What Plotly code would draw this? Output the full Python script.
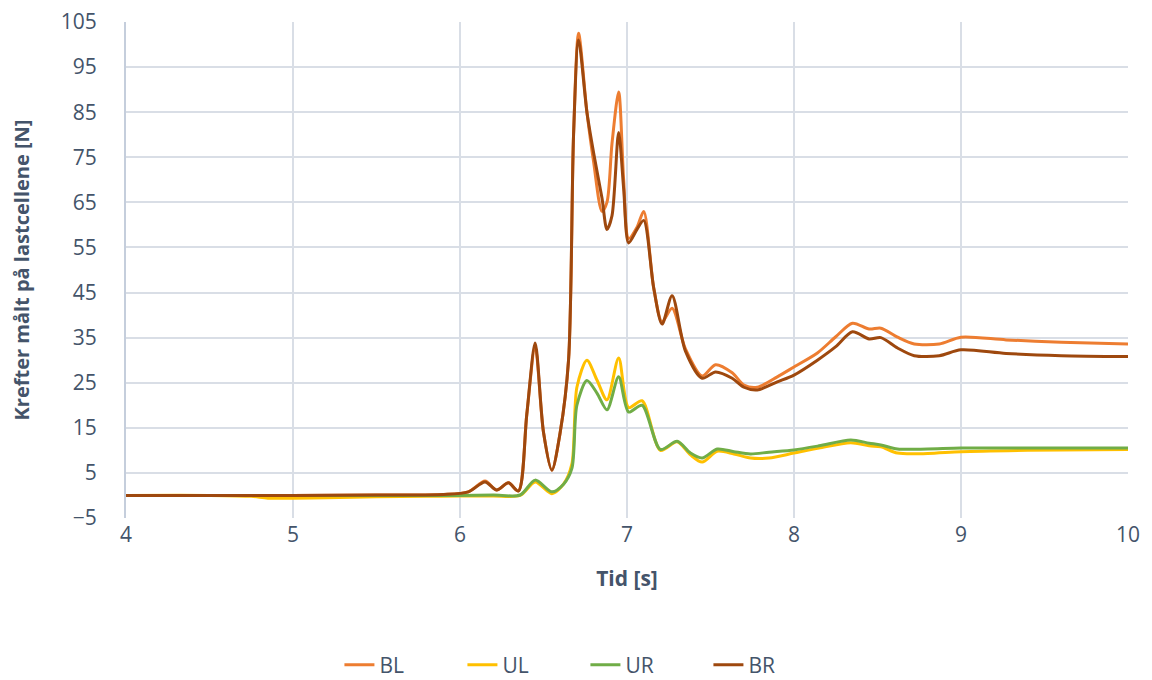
import plotly.graph_objects as go

# time grids (s)
t_B = [4.0, 4.5, 5.0, 5.5, 5.9, 6.05, 6.15, 6.22, 6.29, 6.35, 6.40, 6.45, 6.50, 6.55,
       6.60, 6.65, 6.68, 6.71, 6.76, 6.80, 6.85, 6.88, 6.91, 6.95, 6.98, 7.01, 7.06,
       7.10, 7.16, 7.21, 7.27, 7.35, 7.45, 7.53, 7.63, 7.70, 7.78, 7.90, 8.00, 8.14,
       8.25, 8.35, 8.45, 8.52, 8.62, 8.72, 8.87, 9.00, 9.27, 9.60, 10.0]
BL = [0.0, 0.0, 0.0, 0.1, 0.2, 0.8, 3.2, 1.2, 2.8, 1.0, 18.0, 33.0, 14.0, 5.6,
      14.0, 30.0, 80.0, 102.5, 85.0, 74.0, 63.0, 65.0, 78.0, 89.5, 70.0, 57.0, 59.5,
      63.0, 46.0, 38.5, 41.5, 32.5, 26.5, 29.0, 27.2, 24.5, 24.0, 26.3, 28.5, 31.6,
      35.2, 38.2, 36.9, 37.1, 35.1, 33.6, 33.6, 35.1, 34.5, 34.0, 33.6]
BR = [0.0, 0.0, 0.0, 0.1, 0.2, 0.8, 3.0, 1.2, 2.8, 1.0, 18.0, 33.8, 14.0, 5.6,
      14.0, 30.0, 80.0, 101.0, 85.0, 76.0, 66.0, 59.0, 62.0, 80.5, 68.0, 56.0, 59.0,
      61.0, 46.0, 38.0, 44.3, 32.0, 26.0, 27.4, 26.0, 24.0, 23.4, 25.2, 26.7, 30.0,
      33.0, 36.3, 34.7, 35.0, 32.7, 31.0, 31.0, 32.3, 31.5, 31.0, 30.8]

t_U = [4.0, 4.5, 4.75, 4.85, 5.0, 5.2, 5.5, 5.8, 6.0, 6.2, 6.36, 6.45, 6.55, 6.62,
       6.67, 6.70, 6.76, 6.82, 6.88, 6.95, 7.01, 7.09, 7.20, 7.30, 7.38, 7.45, 7.54,
       7.64, 7.74, 7.85, 8.0, 8.15, 8.34, 8.45, 8.52, 8.62, 8.8, 9.0, 9.4, 10.0]
UL = [0.0, 0.0, -0.2, -0.6, -0.6, -0.5, -0.3, -0.2, -0.1, -0.1, 0.0, 3.0, 0.4, 2.5,
      7.0, 24.0, 30.0, 25.6, 21.2, 30.5, 19.5, 21.0, 10.0, 11.9, 9.0, 7.4, 9.8,
      9.2, 8.3, 8.3, 9.4, 10.5, 11.7, 11.0, 10.8, 9.4, 9.3, 9.7, 10.0, 10.2]
UR = [0.0, 0.0, 0.0, 0.0, 0.0, 0.0, 0.0, 0.0, 0.0, 0.1, 0.1, 3.4, 0.8, 2.5,
      6.0, 20.0, 25.5, 22.7, 19.0, 26.3, 18.5, 20.0, 10.2, 12.0, 9.4, 8.3, 10.3,
      9.7, 9.2, 9.6, 10.1, 11.0, 12.3, 11.6, 11.2, 10.3, 10.3, 10.5, 10.5, 10.5]

x_ticks = [4, 5, 6, 7, 8, 9, 10]
y_ticks = [-5, 5, 15, 25, 35, 45, 55, 65, 75, 85, 95, 105]

series = [
    ("BL", t_B, BL, "#ED7D31"),
    ("UL", t_U, UL, "#FFC000"),
    ("UR", t_U, UR, "#70AD47"),
    ("BR", t_B, BR, "#9E480E"),
]

TXT = "#44546A"
FONT = "Open Sans"
GRID = "#D9DEE6"

fig = go.Figure()
for name, t, y, c in series:
    fig.add_trace(go.Scatter(x=t, y=y, name=name, mode="lines",
                             line=dict(color=c, width=3, shape="spline", smoothing=0.8)))

fig.update_layout(
    width=1144, height=672,
    paper_bgcolor="white", plot_bgcolor="white",
    margin=dict(l=118, r=24, t=14, b=162, autoexpand=False),
    font=dict(family=FONT, color=TXT, size=20),
    legend=dict(orientation="h", x=0.213, xanchor="left", xref="paper",
                y=0.022, yanchor="middle", yref="container",
                font=dict(size=21, color=TXT), entrywidth=78, entrywidthmode="pixels",
                traceorder="normal"),
    showlegend=True,
)
fig.update_xaxes(range=[4, 10], tickvals=x_ticks, showgrid=True, gridcolor=GRID, gridwidth=1.5,
                 zeroline=False, showline=False, ticks="", automargin=False,
                 ticklabelstandoff=2, ticklabeloverflow="allow",
                 tickfont=dict(size=21, color=TXT),
                 title=dict(text="<b>Tid [s]</b>", font=dict(size=21, color=TXT), standoff=24))
fig.update_yaxes(range=[-5, 105], tickvals=y_ticks, showgrid=True, gridcolor=GRID, gridwidth=1.5,
                 zeroline=False, showline=True, linecolor="#C5CEDC", linewidth=2,
                 ticks="", ticklabelstandoff=23, automargin=False, ticklabeloverflow="allow",
                 tickfont=dict(size=21, color=TXT),
                 title=dict(text="<b>Krefter målt på lastcellene [N]</b>", font=dict(size=20, color=TXT),
                            standoff=30))

fig.write_html("out.html")
